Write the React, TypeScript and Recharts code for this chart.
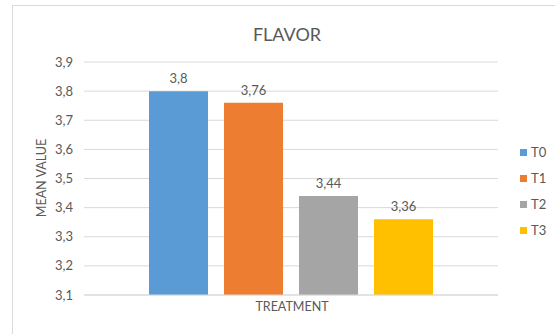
import { BarChart, Bar, XAxis, YAxis, CartesianGrid, LabelList } from "recharts";

const treatments = ["T0", "T1", "T2", "T3"];
const meanValues = [3.8, 3.76, 3.44, 3.36];
const barColors = ["#5B9BD5", "#ED7D31", "#A5A5A5", "#FFC000"];
const yTicks = [3.1, 3.2, 3.3, 3.4, 3.5, 3.6, 3.7, 3.8, 3.9];

const FONT = "Lato, 'Open Sans', sans-serif";
const TEXT = "#595959";

// one category row holding every treatment as its own series
const rows = [
  treatments.reduce<Record<string, number | string>>(
    (row, t, i) => {
      row[t] = meanValues[i];
      return row;
    },
    { group: "FLAVOR" }
  ),
];

const comma = (v: number) => String(v).replace(".", ",");

function SideLegend() {
  return (
    <div style={{ position: "absolute", left: 520, top: 139, fontFamily: FONT, fontSize: 13, color: TEXT }}>
      {treatments.map((t, i) => (
        <div key={t} style={{ display: "flex", alignItems: "center", height: 26 }}>
          <span style={{ width: 7, height: 7, background: barColors[i], marginRight: 4 }} />
          {t}
        </div>
      ))}
    </div>
  );
}

export default function App() {
  return (
    <div style={{ position: "absolute", left: 0, top: 0, width: 555, height: 334, background: "#fff" }}>
      <div
        style={{
          position: "absolute",
          left: 12,
          top: 5,
          width: 543,
          height: 329,
          borderTop: "1px solid #d9d9d9",
          borderLeft: "1px solid #d9d9d9",
          boxSizing: "border-box",
        }}
      />
      <div
        style={{
          position: "absolute",
          left: 187,
          top: 22,
          width: 200,
          textAlign: "center",
          fontFamily: FONT,
          fontSize: 18,
          color: TEXT,
          lineHeight: "24px",
        }}
      >
        FLAVOR
      </div>
      <div
        style={{
          position: "absolute",
          left: 42 - 50,
          top: 178 - 8,
          width: 100,
          height: 16,
          textAlign: "center",
          transform: "rotate(-90deg)",
          fontFamily: FONT,
          fontSize: 12.5,
          color: TEXT,
          lineHeight: "16px",
        }}
      >
        MEAN VALUE
      </div>
      <div
        style={{
          position: "absolute",
          left: 192,
          top: 299,
          width: 200,
          textAlign: "center",
          fontFamily: FONT,
          fontSize: 12.5,
          color: TEXT,
          lineHeight: "16px",
        }}
      >
        TREATMENT
      </div>
      <SideLegend />
      <div style={{ position: "absolute", left: 0, top: 0 }}>
        <BarChart
          width={555}
          height={334}
          data={rows}
          margin={{ top: 62, right: 57, bottom: 0, left: 0 }}
          barSize={59}
          barGap={16}
        >
          <CartesianGrid vertical={false} stroke="#d9d9d9" />
          <XAxis dataKey="group" tick={false} tickLine={false} axisLine={{ stroke: "#d9d9d9" }} height={39} />
          <YAxis
            domain={[3.1, 3.9]}
            ticks={yTicks}
            interval={0}
            tickFormatter={comma}
            axisLine={false}
            tickLine={false}
            tickMargin={5}
            width={84}
            tick={{ fill: TEXT, fontSize: 13, fontFamily: FONT }}
          />
          {treatments.map((t, i) => (
            <Bar key={t} dataKey={t} fill={barColors[i]} isAnimationActive={false}>
              <LabelList
                dataKey={t}
                position="top"
                offset={8}
                formatter={(v: number) => comma(v)}
                style={{ fill: TEXT, fontSize: 13, fontFamily: FONT }}
              />
            </Bar>
          ))}
        </BarChart>
      </div>
    </div>
  );
}
